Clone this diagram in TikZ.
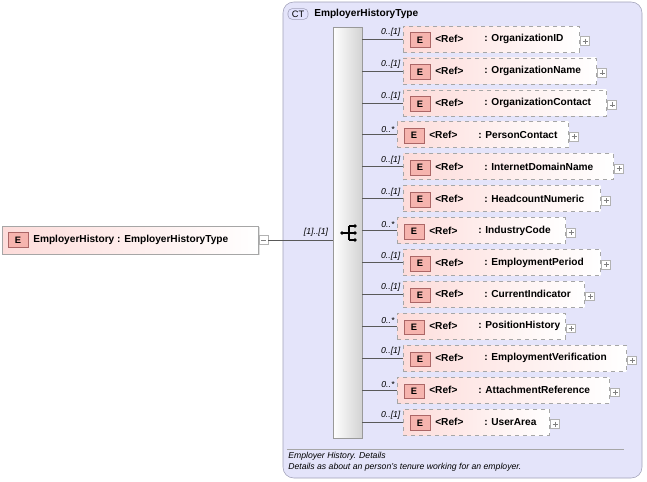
\documentclass[tikz,border=0pt]{standalone}
\usepackage{fontspec}
\setmainfont{Liberation Sans}
\usetikzlibrary{shadows}
\definecolor{ctfill}{HTML}{E4E4FA}
\definecolor{ctline}{HTML}{A0A0B8}
\definecolor{efill}{HTML}{FDDCDA}
\definecolor{ebox}{HTML}{F6B4AE}
\tikzset{
 px/.style={x=0.75pt,y=-0.75pt},
 elbox/.style={draw=gray!70,dashed,left color=efill,right color=white,rectangle,inner sep=0pt,anchor=west},
 ebadge/.style={draw=red!45!black!60,fill=ebox,minimum width=15pt,minimum height=11pt,inner sep=0pt,font=\fontsize{7}{8}\selectfont\bfseries},
 lbl/.style={font=\fontsize{7.6}{9}\selectfont\bfseries,anchor=west,inner sep=0pt},
 card/.style={font=\fontsize{6.5}{8}\selectfont\itshape,anchor=south east,inner sep=1pt},
 plusbox/.style={draw=gray!60,fill=white,minimum size=6.5pt,inner sep=0pt},
 conn/.style={draw=gray!70!black,line width=0.5pt}
}
\begin{document}
\begin{tikzpicture}[px]
\useasboundingbox (0,0) rectangle (647,482);
% CT box
\draw[ctline,fill=ctfill,rounded corners=8pt] (283,2) rectangle (642,478);
\node[draw=ctline,fill=ctfill!70!blue!30,rounded corners=3pt,font=\fontsize{7}{8}\selectfont,inner sep=1.5pt,minimum width=15pt] (ct) at (298,14) {CT};
\node[lbl] (ctname) at (314,14) {EmployerHistoryType};
\draw[gray!70] (287,449) -- (624,449);
\node[anchor=north west,inner sep=0pt,align=left,font=\fontsize{6.5}{8}\selectfont\itshape] (doc) at (288,452) {Employer History. Details\\Details as about an person's tenure working for an employer.};
% sequence bar
\shade[left color=white,right color=gray!35,draw=gray!80] (333,27) rectangle (362,438);
\node[minimum width=21pt,minimum height=308pt,inner sep=0pt] (seq) at (347.5,232.5) {};
% sequence icon
\fill (342,233) circle (1.8);
\draw[line width=0.8pt] (342,233) -- (349,233) (349,226) -- (349,240) (349,226) -- (354,226) (349,233)--(354,233) (349,240)--(354,240);
\fill (355,226) circle (1.8) (355,233) circle (1.8) (355,240) circle (1.8);
% main element
\node[draw=gray!70,left color=efill,right color=white,anchor=west,minimum width=192pt,minimum height=21pt,inner sep=0pt,drop shadow={opacity=0.25,shadow xshift=1pt,shadow yshift=-1pt}] (main) at (2,240) {};
\node[ebadge] (mainE) at (18,240) {E};
\node[lbl] (mainlbl) at (33,240) {EmployerHistory : EmployerHistoryType};
\node[plusbox] (mainminus) at (263.5,240) {};
\draw[gray] (261,240) -- (266,240);
\draw[conn] (mainminus.east) -- (seq.west |- 0,240);
\node[font=\fontsize{6.5}{8}\selectfont\itshape,anchor=south,inner sep=1pt] (mc) at (316,238) {[1]..[1]};
% children
\foreach \i/\xl/\xr/\nm/\cd in {
 0/403/579/OrganizationID/0..[1],
 1/403/596/OrganizationName/0..[1],
 2/403/606/OrganizationContact/0..[1],
 3/397/568/PersonContact/0..*,
 4/403/613/InternetDomainName/0..[1],
 5/403/600/HeadcountNumeric/0..[1],
 6/397/565/IndustryCode/0..*,
 7/403/600/EmploymentPeriod/0..[1],
 8/403/584/CurrentIndicator/0..[1],
 9/397/565/PositionHistory/0..*,
 10/403/626/EmploymentVerification/0..[1],
 11/397/609/AttachmentReference/0..*,
 12/403/549/UserArea/0..[1]}{
 \pgfmathsetmacro{\yy}{39+31.92*\i}
 \pgfmathsetmacro{\ww}{(\xr-\xl)*0.75}
 \node[elbox,minimum width=\ww pt,minimum height=19.5pt] (c\i) at (\xl,\yy) {};
 \node[ebadge] (e\i) at (\xl+17,\yy+1) {E};
 \node[lbl] (r\i) at (\xl+32,\yy) {<Ref>};
 \node[lbl] (n\i) at (\xl+81,\yy) {: \nm};
 \node[plusbox] (p\i) at (\xr+6,\yy+2) {};
 \draw[gray] (\xr+3.5,\yy+2) -- (\xr+8.5,\yy+2) (\xr+6,\yy-0.5) -- (\xr+6,\yy+4.5);
 \coordinate (s\i) at (362,\yy);
 \draw[conn] (s\i) -- (c\i.west);
 \node[card] (k\i) at (\xl-1,\yy-1) {\cd};
}
\end{tikzpicture}
\end{document}
